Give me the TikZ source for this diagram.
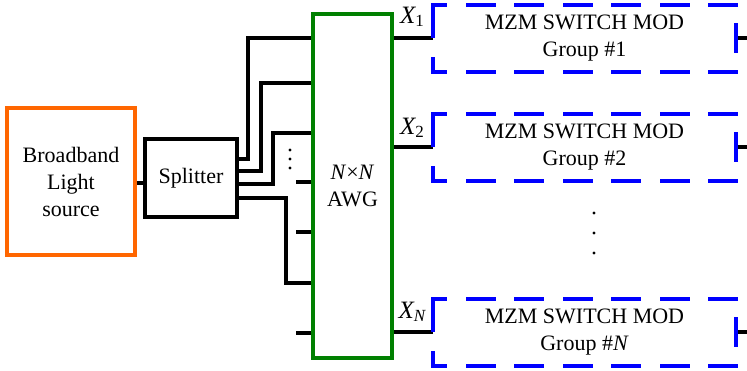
\documentclass[tikz,border=0pt]{standalone}
\usepackage{fontspec}
\setmainfont{Liberation Serif}
\usetikzlibrary{positioning,calc}
\definecolor{srcorange}{RGB}{255,102,0}
\definecolor{awggreen}{RGB}{0,128,0}
\definecolor{modblue}{RGB}{0,0,255}
\newcommand{\lowidx}[1]{\raisebox{-0.3ex}{\fontsize{17}{17}\selectfont #1}}
% dashed frame of a switch group, side by side
\newcommand{\modframe}[1]{%
  \draw[modline, dash pattern=on 31.5pt off 23pt on 30pt] (#1.north west) -- (#1.south west);
  \draw[modline, dash pattern=on 26pt off 22.5pt, dash phase=14pt] (#1.north west) -- (#1.north east);
  \draw[modline, dash pattern=on 26pt off 22.5pt, dash phase=14pt] (#1.south west) -- (#1.south east);
  \draw[modline, dash pattern=on 26pt off 22.5pt, dash phase=28pt] (#1.north east) -- (#1.south east);
}
\tikzset{
  srcbox/.style={draw=srcorange, minimum width=128, minimum height=147, inner sep=0, align=center},
  blkbox/.style={draw, minimum width=92, minimum height=78, inner sep=0},
  awgbox/.style={draw=awggreen, minimum width=79, minimum height=344, inner sep=0, align=center},
  modbox/.style={minimum width=303, minimum height=67, inner sep=0, outer sep=0, align=center},
  modline/.style={draw=modblue, line width=4pt, line cap=rect},
  xlab/.style={anchor=base, inner sep=0, font=\fontsize{25}{25}\selectfont\itshape},
}

\begin{document}
\begin{tikzpicture}[x=1pt, y=-1pt, line width=3.6pt, font=\fontsize{22}{27}\selectfont]
  \useasboundingbox (0,0) rectangle (747,370);

  \node[srcbox] (src) at (71,181.5) {Broadband\\Light\\source};
  \node[blkbox] (split) at (191,178) {Splitter};
  \node[awgbox] (awg) at (352.5,186) {\textit{N}×\textit{N}\\AWG};

  \node[modbox] (g1) at (584.5,38) {MZM SWITCH MOD\\Group \#1};
  \node[modbox] (g2) at (584.5,147) {MZM SWITCH MOD\\Group \#2};
  \node[modbox] (gN) at (584.5,332) {MZM SWITCH MOD\\Group \#\textit{N}};

  \node[xlab] (x1) at (412,23) {X\lowidx{\upshape 1}};
  \node[xlab] (x2) at (412,134) {X\lowidx{\upshape 2}};
  \node[xlab] (xN) at (412,318) {X\lowidx{N}};

  \draw (src.east |- 0,183) -- (split.west |- 0,183);

  % splitter outputs into the AWG
  \foreach \ya/\xb/\yb in {159/248/38, 171/261/83, 184/273/133, 198/286/283}
    \draw (split.east |- 0,\ya) -| (\xb,\yb) -- (awg.west |- 0,\yb);
  \foreach \y in {182,232,333}
    \draw (awg.west |- 0,\y) -- ++(-15,0);
  \foreach \y in {150,159,168}
    \fill (290,\y) circle[radius=1.6];

  % AWG outputs to the switch groups
  \foreach \g in {g1,g2,gN}{
    \draw (awg.east |- \g.west) -- (\g.west);
    \draw (\g.east) -- ++(11,0);
    \modframe{\g}
  }
  \foreach \y in {213,233,253}
    \fill (594,\y) circle[radius=1.6];
\end{tikzpicture}
\end{document}
